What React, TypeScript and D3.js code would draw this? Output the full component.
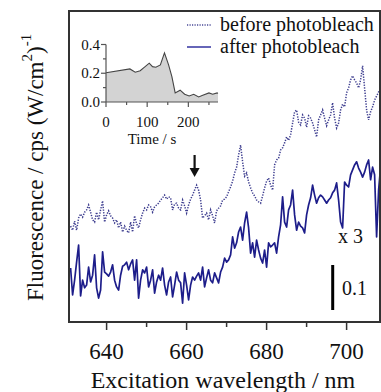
import React from "react";
import * as d3 from "d3";

// Excitation wavelength grid: 631 nm to 708.5 nm, 0.5 nm steps
const waveStart = 631;
const waveStep = 0.5;

// before photobleach (dotted), arbitrary offset units
const beforeValues = [
  0.213, 0.204, 0.224, 0.204, 0.231, 0.24, 0.233, 0.244, 0.249, 0.26,
  0.244, 0.227, 0.222, 0.244, 0.227, 0.249, 0.269, 0.222, 0.238, 0.247,
  0.236, 0.231, 0.22, 0.227, 0.209, 0.222, 0.2, 0.213, 0.204, 0.198,
  0.222, 0.2, 0.236, 0.218, 0.209, 0.227, 0.242, 0.253, 0.249, 0.26,
  0.256, 0.244, 0.256, 0.26, 0.264, 0.271, 0.276, 0.282, 0.273, 0.278,
  0.276, 0.249, 0.262, 0.264, 0.253, 0.249, 0.271, 0.258, 0.242, 0.26,
  0.273, 0.282, 0.293, 0.304, 0.293, 0.271, 0.231, 0.236, 0.242, 0.227,
  0.249, 0.236, 0.22, 0.247, 0.253, 0.258, 0.271, 0.273, 0.278, 0.289,
  0.3, 0.313, 0.331, 0.344, 0.371, 0.393, 0.356, 0.324, 0.331, 0.311,
  0.298, 0.287, 0.28, 0.271, 0.267, 0.264, 0.28, 0.298, 0.313, 0.32,
  0.304, 0.293, 0.349, 0.36, 0.364, 0.382, 0.387, 0.398, 0.411, 0.404,
  0.416, 0.442, 0.467, 0.471, 0.444, 0.438, 0.46, 0.453, 0.433, 0.458,
  0.453, 0.442, 0.427, 0.411, 0.449, 0.46, 0.471, 0.453, 0.436, 0.449,
  0.46, 0.487, 0.453, 0.431, 0.442, 0.471, 0.484, 0.478, 0.509, 0.52,
  0.538, 0.547, 0.538, 0.531, 0.52, 0.538, 0.569, 0.52, 0.471, 0.449,
  0.467, 0.478, 0.493, 0.502, 0.511, 0.516,
];

// after photobleach (solid, x 3)
const afterValues = [
  0.12, 0.06, 0.093, 0.133, 0.171, 0.058, 0.093, 0.076, 0.082, 0.122,
  0.089, 0.104, 0.149, 0.076, 0.053, 0.071, 0.156, 0.111, 0.107, 0.102,
  0.111, 0.127, 0.093, 0.078, 0.071, 0.104, 0.124, 0.127, 0.133, 0.116,
  0.129, 0.138, 0.093, 0.138, 0.053, 0.093, 0.116, 0.109, 0.122, 0.078,
  0.093, 0.116, 0.064, 0.089, 0.104, 0.093, 0.12, 0.082, 0.06, 0.089,
  0.1, 0.056, 0.082, 0.111, 0.093, 0.087, 0.042, 0.109, 0.082, 0.049,
  0.082, 0.1, 0.093, 0.102, 0.109, 0.093, 0.122, 0.078, 0.098, 0.116,
  0.093, 0.087, 0.109, 0.098, 0.087, 0.111, 0.122, 0.142, 0.133, 0.138,
  0.149, 0.189, 0.164, 0.176, 0.2, 0.211, 0.182, 0.22, 0.244, 0.209,
  0.153, 0.176, 0.144, 0.182, 0.16, 0.142, 0.131, 0.16, 0.122, 0.176,
  0.167, 0.171, 0.176, 0.153, 0.189, 0.216, 0.278, 0.222, 0.211, 0.249,
  0.26, 0.293, 0.238, 0.204, 0.222, 0.213, 0.209, 0.198, 0.238, 0.26,
  0.276, 0.304, 0.282, 0.264, 0.276, 0.282, 0.278, 0.271, 0.264, 0.271,
  0.276, 0.287, 0.293, 0.309, 0.271, 0.222, 0.209, 0.311, 0.304, 0.3,
  0.327, 0.338, 0.349, 0.356, 0.342, 0.333, 0.322, 0.333, 0.349, 0.36,
  0.316, 0.344, 0.327, 0.189, 0.293, 0.344,
];

const xMajorTicks = [640, 660, 680, 700];
const xMinorTicks = [650, 670, 690];

// Inset: intensity vs time
const insetTime = [0, 58, 71, 83, 95, 105, 113, 121, 132, 142, 152, 160, 168, 180, 191, 202, 213, 225, 235, 250, 259, 270, 272];
const insetValue = [0.204, 0.23, 0.207, 0.218, 0.246, 0.27, 0.246, 0.242, 0.258, 0.342, 0.258, 0.176, 0.063, 0.082, 0.054, 0.042, 0.054, 0.035, 0.047, 0.063, 0.054, 0.063, 0.06];
const insetXMajor = [0, 100, 200];
const insetXMinor = [50, 150, 250];
const insetYMajor = [0, 0.2, 0.4];
const insetYMinor = [0.1, 0.3];

const arrowWave = 662;
const scaleBarValue = 0.1;

const FONT = "'Liberation Serif', 'Times New Roman', serif";

export default function App() {
  const W = 381, H = 392;
  const left = 69, right = 380, top = 11, bottom = 322;
  const x = d3.scaleLinear().domain([630.6, 708.35]).range([left, right]);
  const y = d3.scaleLinear().domain([0, 0.691]).range([bottom, top]);

  const wave = (i: number) => waveStart + waveStep * i;
  const line = d3
    .line<number>()
    .x((_, i) => x(wave(i)))
    .y((v) => y(v));

  const ix = d3.scaleLinear().domain([0, 272]).range([106, 218]);
  const iy = d3.scaleLinear().domain([0, 0.4]).range([102, 44.5]);
  const insetPts = insetTime.map((t, i) => [t, insetValue[i]] as [number, number]);
  const insetArea = d3
    .area<[number, number]>()
    .x((d) => ix(d[0]))
    .y0(iy(0))
    .y1((d) => iy(d[1]));
  const insetLine = d3
    .line<[number, number]>()
    .x((d) => ix(d[0]))
    .y((d) => iy(d[1]));

  const ax = x(arrowWave);
  const sbX = 332.7;
  const sbBottom = 310;
  const sbTop = sbBottom - (y(0) - y(scaleBarValue));

  return (
    <svg
      width={W}
      height={H}
      style={{ position: "absolute", left: 0, top: 0, background: "#fff" }}
      fontFamily={FONT}
    >
      {/* data */}
      <path d={line(beforeValues) || ""} fill="none" stroke="#3d3d8f" strokeWidth={1.5} strokeDasharray="1.3 1.4" />
      <path d={line(afterValues) || ""} fill="none" stroke="#1d1d8a" strokeWidth={1.7} strokeLinejoin="round" />

      {/* frame */}
      <rect x={left} y={top} width={right - left} height={bottom - top} fill="none" stroke="#333" strokeWidth={2} />
      {xMajorTicks.map((t) => (
        <g key={t}>
          <line x1={x(t)} x2={x(t)} y1={bottom} y2={bottom + 8} stroke="#333" strokeWidth={1.5} />
          <text x={x(t)} y={359} fontSize={23} textAnchor="middle" fill="#111">
            {t}
          </text>
        </g>
      ))}
      {xMinorTicks.map((t) => (
        <line key={t} x1={x(t)} x2={x(t)} y1={bottom} y2={bottom + 5} stroke="#333" strokeWidth={1.5} />
      ))}
      <text x={223} y={388} fontSize={24} textAnchor="middle" fill="#111">
        Excitation wavelength / nm
      </text>
      <text transform="translate(43,301) rotate(-90)" fontSize={23} fill="#111">
        Fluorescence / cps (W/cm
        <tspan fontSize={15} dy={-11}>2</tspan>
        <tspan dy={11}>)</tspan>
        <tspan fontSize={15} dy={-12}>-1</tspan>
      </text>

      {/* legend */}
      <line x1={187} x2={211} y1={25} y2={25} stroke="#4a4a96" strokeWidth={1.3} strokeDasharray="1.2 1.3" />
      <text x={220} y={31} fontSize={20} fill="#111">before photobleach</text>
      <line x1={187} x2={211} y1={47} y2={47} stroke="#3f3fa6" strokeWidth={1.6} />
      <text x={220} y={53} fontSize={20} fill="#111">after photobleach</text>

      {/* inset */}
      <path d={insetArea(insetPts) || ""} fill="#d3d3d3" />
      <path d={insetLine(insetPts) || ""} fill="none" stroke="#444" strokeWidth={1.1} />
      <line x1={ix(0)} x2={ix(272)} y1={iy(0)} y2={iy(0)} stroke="#555" strokeWidth={1.2} />
      <line x1={ix(0)} x2={ix(0)} y1={iy(0)} y2={iy(0.4)} stroke="#555" strokeWidth={1.2} />
      {insetXMajor.map((t) => (
        <g key={t}>
          <line x1={ix(t)} x2={ix(t)} y1={iy(0)} y2={iy(0) + 5} stroke="#555" strokeWidth={1.2} />
          <text x={ix(t)} y={127} fontSize={15} textAnchor="middle" fill="#111">{t}</text>
        </g>
      ))}
      {insetXMinor.map((t) => (
        <line key={t} x1={ix(t)} x2={ix(t)} y1={iy(0)} y2={iy(0) + 3} stroke="#555" strokeWidth={1.2} />
      ))}
      {insetYMajor.map((v) => (
        <g key={v}>
          <line x1={ix(0) - 5} x2={ix(0)} y1={iy(v)} y2={iy(v)} stroke="#555" strokeWidth={1.2} />
          <text x={100} y={iy(v) + 5} fontSize={15} textAnchor="end" fill="#111">{v.toFixed(1)}</text>
        </g>
      ))}
      {insetYMinor.map((v) => (
        <line key={v} x1={ix(0) - 3} x2={ix(0)} y1={iy(v)} y2={iy(v)} stroke="#555" strokeWidth={1.2} />
      ))}
      <text x={152} y={144} fontSize={15} textAnchor="middle" fill="#111">Time / s</text>

      {/* arrow */}
      <line x1={ax} x2={ax} y1={155} y2={169} stroke="#111" strokeWidth={2.2} />
      <path d={`M${ax - 5},${168} L${ax + 5},${168} L${ax},${177} Z`} fill="#111" />

      {/* x3 and scale bar */}
      <text x={338} y={243} fontSize={20} fill="#111">x 3</text>
      <line x1={sbX} x2={sbX} y1={sbTop} y2={sbBottom} stroke="#000" strokeWidth={3} />
      <text x={342} y={295} fontSize={20} fill="#111">0.1</text>
    </svg>
  );
}
